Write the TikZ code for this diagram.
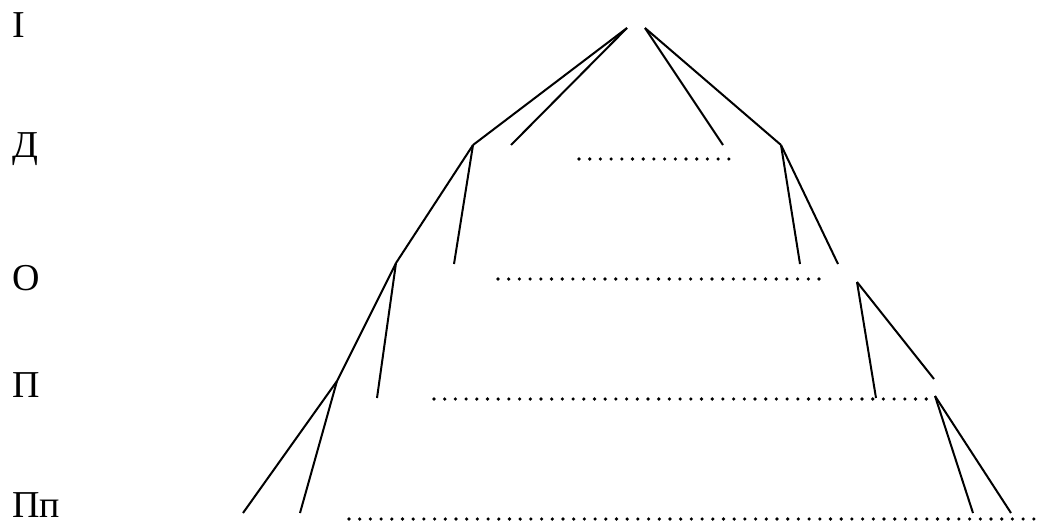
\documentclass[tikz,border=0pt]{standalone}
\usepackage{fontspec}
\setmainfont{Liberation Serif}
\begin{document}
\begin{tikzpicture}[x=1pt,y=-1pt,
  branch/.style={line width=2pt},
  dotrow/.style={line width=3.6pt,line cap=round,dash pattern=on 0pt off 10.7pt},
  lvl/.style={anchor=base west,inner sep=0pt,font=\fontsize{38}{40}\selectfont}]
\useasboundingbox (0,0) rectangle (1043,523);
% level labels
\node[lvl] (lI) at (12,37) {I};
\node[lvl] (lD) at (12,157) {Д};
\node[lvl] (lO) at (12,290) {О};
\node[lvl] (lP) at (12,397) {П};
\node[lvl] (lPp) at (12,517) {Пп};
% tree points
\coordinate (A1) at (627,28);
\coordinate (A2) at (645,28);
\coordinate (D1) at (473,145);
\coordinate (D2) at (511,145);
\coordinate (D3) at (723,145);
\coordinate (D4) at (781,145);
\coordinate (O1) at (396,263);
\coordinate (O2) at (454,264);
\coordinate (O3) at (800,264);
\coordinate (O4) at (838,264);
\coordinate (R) at (857,282);
\coordinate (R1) at (876,398);
\coordinate (R2) at (934,379);
\coordinate (P1) at (337,381);
\coordinate (P2) at (377,398);
\coordinate (Q) at (935,396);
\coordinate (Q1) at (973,513);
\coordinate (Q2) at (1011,513);
\coordinate (L1) at (243,513);
\coordinate (L2) at (300,513);
% dotted rows
\coordinate (dDs) at (579,159); \coordinate (dDe) at (730,159);
\coordinate (dOs) at (498,279); \coordinate (dOe) at (826,279);
\coordinate (dPs) at (434,399); \coordinate (dPe) at (936,399);
\coordinate (dQs) at (349,519); \coordinate (dQe) at (1041,519);
% branches
\draw[branch] (A1) -- (D1);
\draw[branch] (A1) -- (D2);
\draw[branch] (A2) -- (D3);
\draw[branch] (A2) -- (D4);
\draw[branch] (D1) -- (O1);
\draw[branch] (D1) -- (O2);
\draw[branch] (D4) -- (O3);
\draw[branch] (D4) -- (O4);
\draw[branch] (O1) -- (P1);
\draw[branch] (O1) -- (P2);
\draw[branch] (R) -- (R1);
\draw[branch] (R) -- (R2);
\draw[branch] (P1) -- (L1);
\draw[branch] (P1) -- (L2);
\draw[branch] (Q) -- (Q1);
\draw[branch] (Q) -- (Q2);
% dots
\draw[dotrow] (dDs) -- (dDe);
\draw[dotrow] (dOs) -- (dOe);
\draw[dotrow] (dPs) -- (dPe);
\draw[dotrow] (dQs) -- (dQe);
\end{tikzpicture}
\end{document}
